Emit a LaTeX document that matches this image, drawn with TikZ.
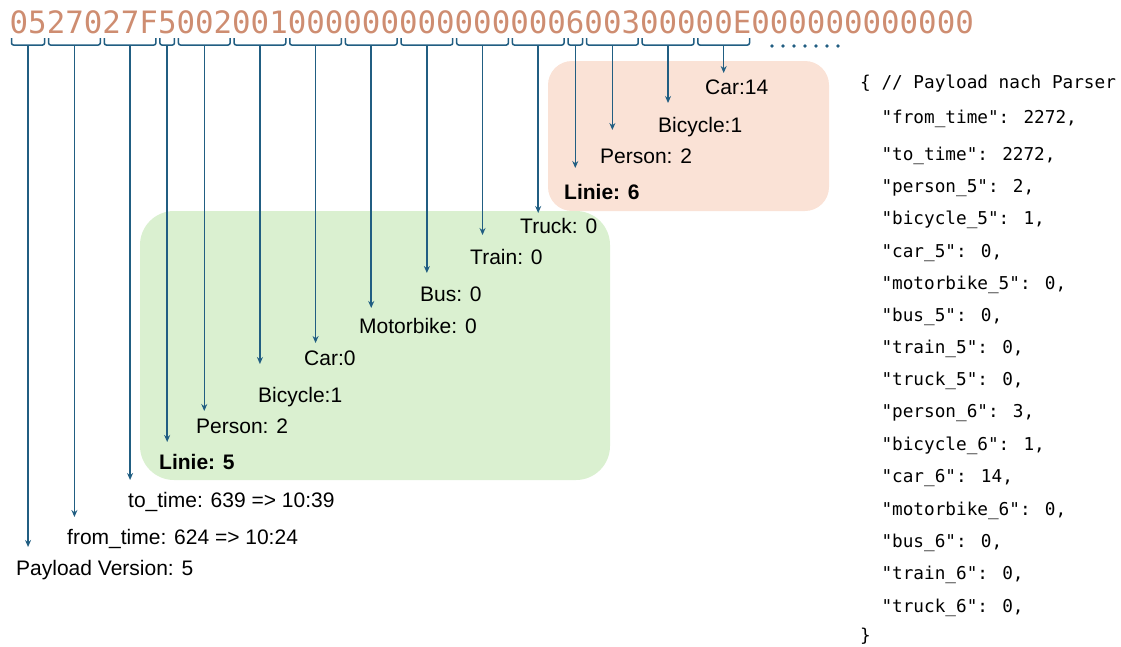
\documentclass[tikz,border=0pt]{standalone}
\usepackage{fontspec}
\setmainfont{Liberation Sans}
\setmonofont{DejaVu Sans Mono}
\newfontfamily\hexfont{DejaVu Sans Mono}
\usetikzlibrary{arrows.meta}
\definecolor{hexcol}{RGB}{206,141,113}
\definecolor{linkblue}{RGB}{33,94,130}
\definecolor{linegreen}{RGB}{218,240,208}
\definecolor{linepeach}{RGB}{250,226,214}

\begin{document}
\begin{tikzpicture}[x=1pt, y=-1pt,
  lbl/.style={anchor=base west, inner sep=0pt, font=\fontsize{21}{24}\selectfont},
  json/.style={anchor=base west, inner sep=0pt, font=\ttfamily\fontsize{17.7}{20}\selectfont},
  arr/.style={linkblue, line width=1.5pt, -{Stealth[length=7pt,width=6pt]}},
  brc/.style={linkblue, line width=1.5pt, rounded corners=2pt}]
\useasboundingbox (0,0) rectangle (1121,646);

% Line boxes
\fill[linepeach, rounded corners=24pt] (548,61) rectangle (829,211);
\fill[linegreen, rounded corners=34pt] (140,211) rectangle (610,480);

% Raw payload
\node[anchor=base west, inner sep=0pt, text=hexcol, font=\hexfont\fontsize{30.8}{36}\selectfont] (hex) at (9.5,33)
  {0527027F5002001000000000000000600300000E000000000000};
\foreach \k in {0,...,6}
  \fill[linkblue] (772+11*\k,46) circle (1.8pt);

% Fields: brace, arrow and value
\foreach \i/\s/\e/\ty/\lx/\ly/\txt in {
  1/0/1/547/16/575/{Payload Version: 5},
  2/2/4/517/67/544/{from\_time: 624 => 10:24},
  3/5/7/480/128/507/{to\_time: 639 => 10:39},
  4/8/8/442/159/469/{\bfseries Linie: 5},
  5/9/11/411/196/433/{Person: 2},
  6/12/14/364/258/402/{Bicycle:1},
  7/15/17/343/304/365/{Car:0},
  8/18/20/308/359/333/{Motorbike: 0},
  9/21/23/273/420/301/{Bus: 0},
  10/24/26/235/470/264/{Train: 0},
  11/27/29/213/520/233/{Truck: 0},
  12/30/30/168/564/199/{\bfseries Linie: 6},
  13/31/33/130/600/163/{Person: 2},
  14/34/36/103/658/132/{Bicycle:1},
  15/37/39/73/705/94/{Car:14}} {
  \pgfmathsetmacro{\xa}{9.5+18.55*\s+2}
  \pgfmathsetmacro{\xb}{9.5+18.55*(\e+1)-2}
  \draw[brc] (\xa,38) -- (\xa,45) -- (\xb,45) -- (\xb,38);
  \coordinate (b\i) at ({(\xa+\xb)/2},45);
  \coordinate (t\i) at ({(\xa+\xb)/2},\ty);
  \node[lbl] (l\i) at (\lx,\ly) {\txt};
  \draw[arr] (b\i) -- (t\i);
}

% Parsed payload
\node[json] (j0) at (860,88) {\{ // Payload nach Parser};
\foreach \k/\y/\txt in {
  1/123/{"from\_time": 2272,},
  2/160/{"to\_time": 2272,},
  3/192/{"person\_5": 2,},
  4/224/{"bicycle\_5": 1,},
  5/257/{"car\_5": 0,},
  6/289/{"motorbike\_5": 0,},
  7/321/{"bus\_5": 0,},
  8/353/{"train\_5": 0,},
  9/385/{"truck\_5": 0,},
  10/417/{"person\_6": 3,},
  11/450/{"bicycle\_6": 1,},
  12/482/{"car\_6": 14,},
  13/515/{"motorbike\_6": 0,},
  14/547/{"bus\_6": 0,},
  15/579/{"train\_6": 0,},
  16/612/{"truck\_6": 0,}}
  \node[json] (j\k) at (881.3,\y) {\txt};
\node[json] (jend) at (860,641) {\}};
\end{tikzpicture}
\end{document}
